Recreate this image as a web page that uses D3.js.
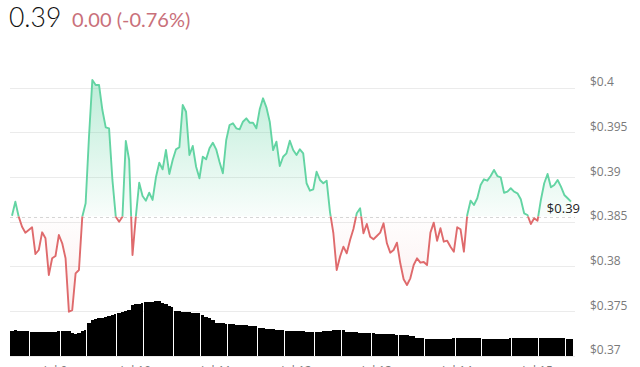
<!DOCTYPE html>
<html><head><meta charset="utf-8">
<script src="https://cdn.jsdelivr.net/npm/d3@7/dist/d3.min.js"></script>
<style>
html,body{margin:0;padding:0;background:#fff;overflow:hidden}
svg{display:block}
</style></head><body>
<svg id="chart" width="640" height="367"></svg>
<script>
// hourly prices over 7 days (168 points)
const prices = [
0.38565,0.38722,0.38554,0.38442,0.38375,0.38405,0.38435,0.38136,0.38181,0.38379,
0.38312,0.37901,0.38088,0.38114,0.38349,0.38256,0.38088,0.37490,0.37509,0.37920,
0.37957,0.38554,0.38704,0.39449,0.40084,0.40028,0.40028,0.39748,0.39554,0.39543,
0.38965,0.38554,0.38498,0.38554,0.39401,0.39188,0.38125,0.38554,0.38934,0.38785,
0.38733,0.38822,0.38741,0.38995,0.39158,0.39084,0.39300,0.39032,0.39188,0.39308,
0.39331,0.39804,0.39729,0.39244,0.39345,0.39113,0.38984,0.39225,0.39196,0.39319,
0.39382,0.39308,0.39166,0.39040,0.39412,0.39580,0.39599,0.39543,0.39532,0.39617,
0.39655,0.39606,0.39606,0.39543,0.39756,0.39879,0.39778,0.39617,0.39300,0.39393,
0.39121,0.39225,0.39263,0.39404,0.39300,0.39244,0.39308,0.39263,0.38928,0.38845,
0.38860,0.39057,0.38965,0.38928,0.38957,0.38606,0.38371,0.37957,0.38106,0.38218,
0.38144,0.38293,0.38416,0.38592,0.38648,0.38368,0.38472,0.38330,0.38301,0.38338,
0.38375,0.38480,0.38256,0.38151,0.38181,0.38263,0.38032,0.37853,0.37789,0.37864,
0.38013,0.38088,0.38039,0.38047,0.38013,0.38375,0.38487,0.38285,0.38424,0.38274,
0.38285,0.38218,0.38162,0.38435,0.38413,0.38162,0.38573,0.38733,0.38685,0.38760,
0.38909,0.38972,0.38957,0.39009,0.39077,0.39009,0.38995,0.38822,0.38834,0.38872,
0.38834,0.38816,0.38749,0.38592,0.38573,0.38472,0.38536,0.38509,0.38741,0.38928,
0.39032,0.38883,0.38909,0.38965,0.38890,0.38797,0.38760,0.38722
];
// hourly volume (arbitrary units)
const volumes = [
25.5,25.6,25.4,25.5,25.3,25.2,
24.3,24.4,24.3,24.2,24.3,24.4,24.3,24.5,24.6,
25.0,25.1,24.8, 22.7,22.5,23.0, 25.5,26.2, 33.0,
36.0,37.0,37.8,38.5,39.2,40.0,40.8,41.7,
43.0,44.0,45.0,46.0, 51.0,52.0,52.5,53.0,
54.0,54.2,54.5,55.0,55.3, 53.0,52.0,50.5,49.0,
45.0,44.6,44.2,44.0,43.6,43.2,43.0,42.7,
41.0,39.5,38.0,36.0, 33.0,32.7,32.7,32.5,
32.0,31.8,31.5,31.2,31.0,30.8,30.5,30.2,30.0,
28.0,27.7,27.4,27.0,26.8,26.5,26.2,26.0,
25.3,25.2,25.0,24.9,24.8,24.6,24.5,24.4,24.3,
24.3,24.5,24.8,25.0,25.3,25.6,26.0, 26.0,25.6,
23.7,23.7,23.6,23.6,23.5,23.5,23.4,
22.7,22.6,22.5,22.4,22.3,22.2,22.1,22.0,
21.5,21.2,21.0,20.7,20.4,20.0, 17.7,17.7,17.6,
17.0,17.0,17.0,17.0,17.0,17.0,17.0,17.0,
18.0,18.0,18.0,18.0,18.0,18.0,18.0,18.0,18.0,
17.2,17.2,17.2,17.2,17.2,17.2,17.2,17.2,
18.3,18.3,18.3,18.3,18.3,18.3,18.3,18.3,
18.0,18.0,18.0,18.0,18.0,18.0,18.0,18.0,18.0,
17.3,17.3
];
const previousClose = 0.38555;
const yTicks = [0.4, 0.395, 0.39, 0.385, 0.38, 0.375, 0.37];
const yTickLabels = ["$0.4", "$0.395", "$0.39", "$0.385", "$0.38", "$0.375", "$0.37"];
const xTickIndex = [13, 37, 61, 85, 109, 133, 157];
const xTickLabels = ["Jul 9", "Jul 10", "Jul 11", "Jul 12", "Jul 13", "Jul 14", "Jul 15"];
const headerPrice = "0.39";
const headerChange = "0.00 (-0.76%)";
const lastLabel = "$0.39";

const green = "#63d4a3", red = "#df6a6c";
const svg = d3.select("#chart");
const n = prices.length;
const x = d3.scaleLinear().domain([0, n - 1]).range([12, 571]);
const y = d3.scaleLinear().domain([0.37, 0.4]).range([355.5, 87.5]);
const yVol = d3.scaleLinear().domain([0, 100]).range([356, 256]);
const step = x(1) - x(0);
const baseY = y(previousClose);

// header
svg.append("text").attr("x", 9).attr("y", 27)
  .attr("font-family", "Lato, 'Noto Sans', sans-serif").attr("font-weight", 300)
  .attr("font-size", 26.5).attr("fill", "#111").text(headerPrice);
svg.append("text").attr("x", 72).attr("y", 26.5)
  .attr("font-family", "Lato, 'Noto Sans', sans-serif").attr("font-weight", 400)
  .attr("font-size", 20).attr("fill", "#c9707a").text(headerChange);

// gridlines + y labels
const grid = svg.append("g");
grid.selectAll("line").data(yTicks).join("line")
  .attr("x1", 10).attr("x2", 575)
  .attr("y1", d => Math.round(y(d)) + 0.5).attr("y2", d => Math.round(y(d)) + 0.5)
  .attr("stroke", "#ebebeb").attr("stroke-width", 1);
const yAxis = d3.axisRight(y).tickValues(yTicks).tickSize(0).tickPadding(0)
  .tickFormat((d, i) => yTickLabels[i]);
const ya = svg.append("g").attr("transform", "translate(590,0)").call(yAxis);
ya.select(".domain").remove();
ya.selectAll("text").attr("font-family", "'Open Sans', sans-serif").attr("font-size", 12)
  .attr("fill", "#7a7a7a").attr("dy", "-0.15em");

// x labels (largely below the bottom edge, as in the reference)
const xa = svg.append("g");
xa.selectAll("text").data(xTickIndex).join("text")
  .attr("x", d => x(d)).attr("y", 375).attr("text-anchor", "middle")
  .attr("font-family", "'Open Sans', sans-serif").attr("font-size", 12).attr("fill", "#7a7a7a")
  .text((d, i) => xTickLabels[i]);

// dashed previous close line
svg.append("line").attr("x1", 10).attr("x2", 575)
  .attr("y1", Math.round(baseY) + 0.5).attr("y2", Math.round(baseY) + 0.5)
  .attr("stroke", "#d6d6d6").attr("stroke-dasharray", "3,3");

// volume bars (grouped, separated by thin gaps)
const groupOf = i => Math.floor((i + 2.43) / 8.42);
svg.append("g").attr("shape-rendering", "crispEdges")
  .selectAll("rect").data(volumes).join("rect")
  .attr("x", (d, i) => Math.round(x(i) - step / 2))
  .attr("width", (d, i) => {
    const x0 = Math.round(x(i) - step / 2), x1 = Math.round(x(i) + step / 2);
    const gap = (i < n - 1 && groupOf(i + 1) !== groupOf(i)) ? 1 : 0;
    return Math.max(1, x1 - x0 - gap);
  })
  .attr("y", d => yVol(d)).attr("height", d => yVol(0) - yVol(d))
  .attr("fill", "#000");

// defs: clips and gradients
const defs = svg.append("defs");
defs.append("clipPath").attr("id", "above").append("rect")
  .attr("x", 0).attr("y", 0).attr("width", 640).attr("height", baseY);
defs.append("clipPath").attr("id", "below").append("rect")
  .attr("x", 0).attr("y", baseY).attr("width", 640).attr("height", 367 - baseY);
const gg = defs.append("linearGradient").attr("id", "gGreen")
  .attr("gradientUnits", "userSpaceOnUse").attr("x1", 0).attr("x2", 0).attr("y1", 80).attr("y2", baseY);
gg.append("stop").attr("offset", 0).attr("stop-color", green).attr("stop-opacity", 0.42);
gg.append("stop").attr("offset", 1).attr("stop-color", green).attr("stop-opacity", 0.04);
const gr = defs.append("linearGradient").attr("id", "gRed")
  .attr("gradientUnits", "userSpaceOnUse").attr("x1", 0).attr("x2", 0).attr("y1", baseY).attr("y2", 315);
gr.append("stop").attr("offset", 0).attr("stop-color", red).attr("stop-opacity", 0.01);
gr.append("stop").attr("offset", 1).attr("stop-color", red).attr("stop-opacity", 0.12);

const area = d3.area().x((d, i) => x(i)).y0(baseY).y1(d => y(d));
const line = d3.line().x((d, i) => x(i)).y(d => y(d));

svg.append("path").datum(prices).attr("d", area).attr("fill", "url(#gGreen)").attr("clip-path", "url(#above)");
svg.append("path").datum(prices).attr("d", area).attr("fill", "url(#gRed)").attr("clip-path", "url(#below)");
svg.append("path").datum(prices).attr("d", line).attr("fill", "none").attr("stroke", green)
  .attr("stroke-width", 1.9).attr("stroke-linejoin", "round").attr("clip-path", "url(#above)");
svg.append("path").datum(prices).attr("d", line).attr("fill", "none").attr("stroke", red)
  .attr("stroke-width", 1.9).attr("stroke-linejoin", "round").attr("clip-path", "url(#below)");

// last price label
svg.append("text").attr("x", x(n - 1) + 9).attr("y", y(prices[n - 1]) + 11)
  .attr("text-anchor", "end").attr("font-family", "'Open Sans', sans-serif")
  .attr("font-size", 13).attr("fill", "#222").text(lastLabel);
</script>
</body></html>
